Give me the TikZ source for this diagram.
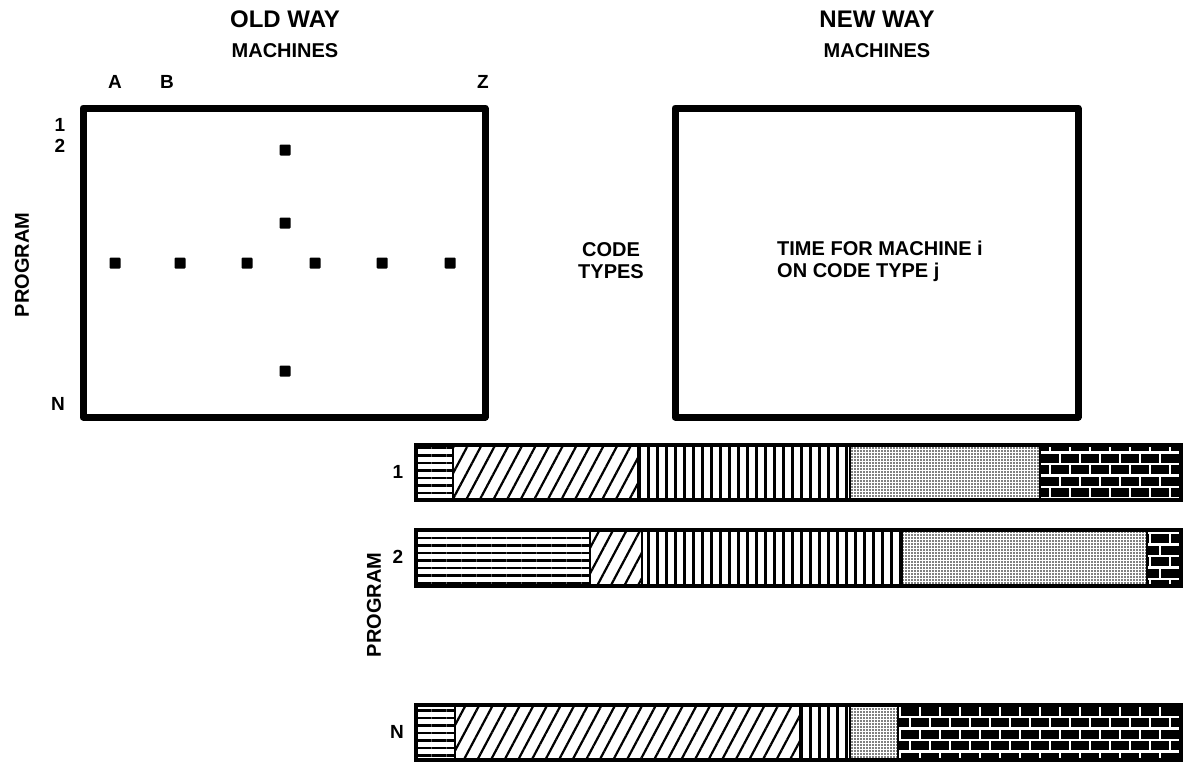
\documentclass[tikz,border=0pt]{standalone}
\usepackage{fontspec}
\setmainfont{Liberation Sans}
\usetikzlibrary{patterns,patterns.meta}

\pgfdeclarepatternformonly{whitebricks}{\pgfpoint{-1.5pt}{-1.5pt}}{\pgfpoint{21.5pt}{24.5pt}}{\pgfpoint{20pt}{23pt}}{%
  \pgfsetlinewidth{2.4pt}%
  \pgfpathmoveto{\pgfpoint{-1pt}{0pt}}\pgfpathlineto{\pgfpoint{21pt}{0pt}}%
  \pgfpathmoveto{\pgfpoint{-1pt}{11.5pt}}\pgfpathlineto{\pgfpoint{21pt}{11.5pt}}%
  \pgfpathmoveto{\pgfpoint{0pt}{0pt}}\pgfpathlineto{\pgfpoint{0pt}{11.5pt}}%
  \pgfpathmoveto{\pgfpoint{10pt}{11.5pt}}\pgfpathlineto{\pgfpoint{10pt}{23pt}}%
  \pgfusepath{stroke}}

\tikzset{
  bigbox/.style={draw, line width=7pt, line join=round},
  barline/.style={draw, line width=4pt},
  divline/.style={draw, line width=2pt},
  hl/.style={pattern={Lines[angle=0,distance=7.5pt,line width=2.3pt]}},
  dl/.style={pattern={Lines[angle=62,distance=12pt,line width=2.2pt]}},
  vl/.style={pattern={Lines[angle=90,distance=9pt,line width=3pt]}},
  dt/.style={pattern={Dots[distance=3pt,radius=0.9pt]}},
  bk/.style={fill=black, postaction={pattern=whitebricks, pattern color=white}},
  title/.style={font=\fontsize{24}{24}\selectfont\bfseries, inner sep=0pt},
  mach/.style={font=\fontsize{20}{20}\selectfont\bfseries, inner sep=0pt},
  lab/.style={font=\fontsize{19}{19}\selectfont\bfseries, inner sep=0pt},
  txt/.style={font=\fontsize{20}{22}\selectfont\bfseries, inner sep=0pt},
  pt/.style={fill=black, minimum size=11pt, inner sep=0pt, rounded corners=1pt}
}

\begin{document}
\begin{tikzpicture}[x=1pt,y=-1pt]
\useasboundingbox (0,0) rectangle (1185,763);

% ---- OLD WAY ----
\node[title] (oldway) at (285,19) {OLD WAY};
\node[mach] (oldmach) at (285,51) {MACHINES};
\node[lab] (colA) at (115,82) {A};
\node[lab] (colB) at (167,82) {B};
\node[lab] (colZ) at (483,82) {Z};
\node[lab] (row1) at (60,125) {1};
\node[lab] (row2) at (60,146) {2};
\node[lab] (rowN) at (58,404) {N};
\node[lab, font=\fontsize{20}{20}\selectfont\bfseries, rotate=90] (progL) at (22,265) {PROGRAM};
\draw[bigbox] (83,108) rectangle (485,417);
\node[pt] (d1) at (285,150) {};
\node[pt] (d2) at (285,223) {};
\node[pt] (d3) at (115,263) {};
\node[pt] (d4) at (180,263) {};
\node[pt] (d5) at (247,263) {};
\node[pt] (d6) at (315,263) {};
\node[pt] (d7) at (382,263) {};
\node[pt] (d8) at (450,263) {};
\node[pt] (d9) at (285,371) {};

% ---- NEW WAY ----
\node[title] (newway) at (877,19) {NEW WAY};
\node[mach] (newmach) at (877,51) {MACHINES};
\draw[bigbox] (675,108) rectangle (1078,417);
\node[txt, align=center] (codetypes) at (611,261) {CODE\\TYPES};
\node[txt, align=left, anchor=west] (timetxt) at (777,261) {TIME FOR MACHINE i\\ON CODE TYPE j};

% ---- bars ----
\node[lab] (b1) at (398,472) {1};
\node[lab] (b2) at (398,557) {2};
\node[lab] (bN) at (397,732) {N};
\node[lab, font=\fontsize{20}{20}\selectfont\bfseries, rotate=90] (progR) at (374,605) {PROGRAM};

% bar 1
\path[hl] (416,445) rectangle (453,500);
\path[dl] (453,445) rectangle (638,500);
\path[vl] (638,445) rectangle (850,500);
\path[dt] (850,445) rectangle (1040,500);
\path[bk] (1040,445) rectangle (1181,500);
\foreach \x in {453,638,850,1040} \draw[divline] (\x,445) -- (\x,500);
\draw[barline] (416,445) rectangle (1181,500);

% bar 2
\path[hl] (416,530) rectangle (590,586);
\path[dl] (590,530) rectangle (642,586);
\path[vl] (642,530) rectangle (902,586);
\path[dt] (902,530) rectangle (1147,586);
\path[bk] (1147,530) rectangle (1181,586);
\foreach \x in {590,642,902,1147} \draw[divline] (\x,530) -- (\x,586);
\draw[barline] (416,530) rectangle (1181,586);

% bar N
\path[hl] (416,705) rectangle (455,760);
\path[dl] (455,705) rectangle (800,760);
\path[vl] (800,705) rectangle (850,760);
\path[dt] (850,705) rectangle (898,760);
\path[bk] (898,705) rectangle (1181,760);
\foreach \x in {455,800,850,898} \draw[divline] (\x,705) -- (\x,760);
\draw[barline] (416,705) rectangle (1181,760);
\end{tikzpicture}
\end{document}
